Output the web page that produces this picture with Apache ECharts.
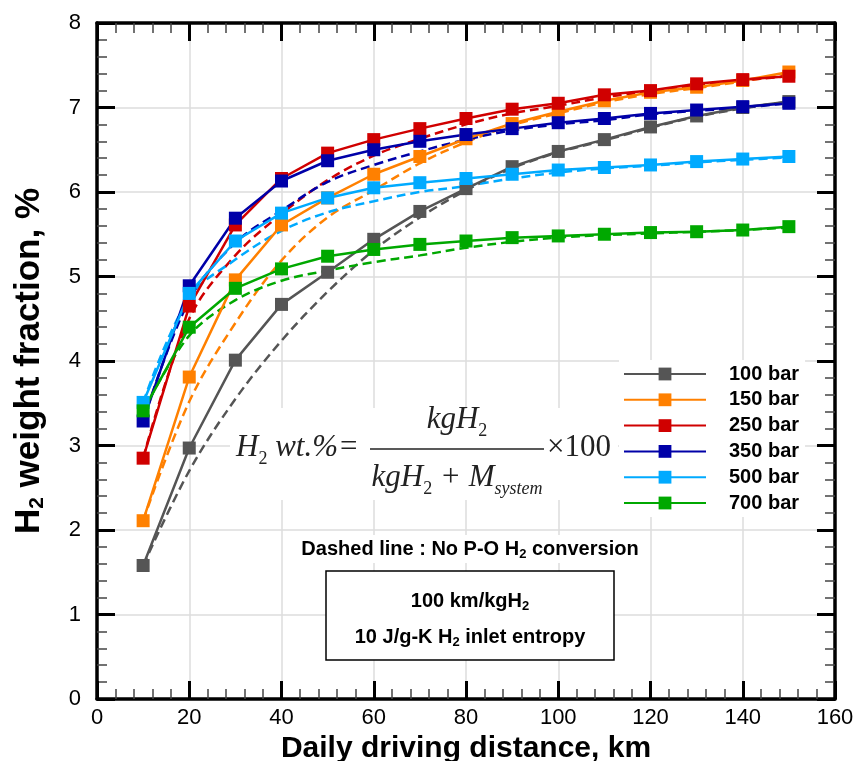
<!DOCTYPE html>
<html>
<head>
<meta charset="utf-8">
<script src="https://cdn.jsdelivr.net/npm/echarts@6/dist/echarts.min.js"></script>
<style>
  html, body { margin: 0; padding: 0; background: #fff; }
  #chart { width: 860px; height: 761px; }
</style>
</head>
<body>
<div id="chart"></div>
<script>
// daily driving distance, km
var distance = [10, 20, 30, 40, 50, 60, 70, 80, 90, 100, 110, 120, 130, 140, 150];

// solid lines (with P-O conversion)
var bar100 = [1.58, 2.97, 4.01, 4.67, 5.05, 5.44, 5.77, 6.04, 6.30, 6.48, 6.62, 6.77, 6.90, 7.00, 7.07];
var bar150 = [2.11, 3.81, 4.96, 5.61, 5.93, 6.21, 6.42, 6.63, 6.81, 6.95, 7.08, 7.18, 7.24, 7.32, 7.42];
var bar250 = [2.85, 4.65, 5.61, 6.16, 6.46, 6.62, 6.75, 6.87, 6.98, 7.05, 7.15, 7.20, 7.28, 7.33, 7.37];
var bar350 = [3.29, 4.89, 5.69, 6.13, 6.37, 6.50, 6.60, 6.68, 6.75, 6.82, 6.87, 6.93, 6.97, 7.01, 7.05];
var bar500 = [3.51, 4.80, 5.42, 5.75, 5.93, 6.05, 6.11, 6.16, 6.21, 6.26, 6.29, 6.32, 6.36, 6.39, 6.42];
var bar700 = [3.41, 4.40, 4.86, 5.09, 5.24, 5.32, 5.38, 5.42, 5.46, 5.48, 5.50, 5.52, 5.53, 5.55, 5.59];

// dashed lines (no P-O H2 conversion)
var noPO100 = [1.58, 2.70, 3.55, 4.24, 4.82, 5.31, 5.70, 6.02, 6.28, 6.47, 6.61, 6.76, 6.89, 6.99, 7.07];
var noPO150 = [2.11, 3.52, 4.45, 5.19, 5.70, 6.02, 6.34, 6.59, 6.79, 6.93, 7.06, 7.16, 7.23, 7.31, 7.40];
var noPO250 = [2.85, 4.50, 5.25, 5.74, 6.14, 6.43, 6.63, 6.80, 6.93, 7.02, 7.12, 7.19, 7.26, 7.32, 7.37];
var noPO350 = [3.29, 4.72, 5.40, 5.78, 6.12, 6.32, 6.48, 6.62, 6.73, 6.80, 6.85, 6.92, 6.96, 7.00, 7.05];
var noPO500 = [3.51, 4.75, 5.20, 5.54, 5.76, 5.89, 6.00, 6.07, 6.16, 6.23, 6.28, 6.31, 6.35, 6.38, 6.41];
var noPO700 = [3.41, 4.30, 4.72, 4.95, 5.07, 5.17, 5.25, 5.34, 5.41, 5.46, 5.49, 5.51, 5.53, 5.55, 5.58];

var names = ['100 bar', '150 bar', '250 bar', '350 bar', '500 bar', '700 bar'];
var colors = ['#555555', '#ff8000', '#d00000', '#0000a8', '#00aaff', '#00a800'];
var solidData = [bar100, bar150, bar250, bar350, bar500, bar700];
var dashedData = [noPO100, noPO150, noPO250, noPO350, noPO500, noPO700];

function pairs(ys) {
    var arr = [];
    for (let i = 0; i < ys.length; i++) {
        arr.push([distance[i], ys[i]]);
    }
    return arr;
}

var series = [];
for (let i = 0; i < names.length; i++) {
    series.push({
        name: names[i] + ' dashed',
        type: 'line',
        data: pairs(dashedData[i]),
        smooth: 0.35,
        showSymbol: false,
        symbol: 'none',
        lineStyle: { color: colors[i], width: 2.5, type: [9, 5] },
        itemStyle: { color: colors[i] },
        z: 2
    });
}
for (let i = 0; i < names.length; i++) {
    series.push({
        name: names[i],
        type: 'line',
        data: pairs(solidData[i]),
        symbol: 'rect',
        symbolSize: 13,
        lineStyle: { color: colors[i], width: 2.5 },
        itemStyle: { color: colors[i] },
        z: 3
    });
}

var tickFont = { fontFamily: 'Liberation Sans', fontSize: 22, color: '#000' };
var serif = 'Liberation Serif';

function axisBase() {
    return {
        axisLine: { show: true, onZero: false, lineStyle: { color: '#000', width: 3.5 } },
        axisTick: { show: true, inside: true, length: 18, lineStyle: { color: '#000', width: 3 } },
        minorTick: { show: true, splitNumber: 5, length: 10, lineStyle: { color: '#444', width: 1.5 } }
    };
}

var chart = echarts.init(document.getElementById('chart'), null, { renderer: 'canvas' });

var option = {
    animation: false,
    backgroundColor: '#fff',
    grid: { left: 97, right: 25, top: 23, bottom: 62, containLabel: false, outerBoundsMode: 'none' },
    xAxis: [
        Object.assign(axisBase(), {
            type: 'value', min: 0, max: 160, interval: 20, position: 'bottom',
            axisLabel: Object.assign({ margin: 8 }, tickFont),
            splitLine: { show: true, lineStyle: { color: '#dcdcdc', width: 1.5 } },
            name: 'Daily driving distance, km',
            nameLocation: 'middle',
            nameGap: 31,
            nameTextStyle: { fontFamily: 'Liberation Sans', fontWeight: 'bold', fontSize: 30, color: '#000' }
        }),
        Object.assign(axisBase(), {
            type: 'value', min: 0, max: 160, interval: 20, position: 'top',
            axisLabel: { show: false }, splitLine: { show: false }
        })
    ],
    yAxis: [
        Object.assign(axisBase(), {
            type: 'value', min: 0, max: 8, interval: 1, position: 'left',
            axisLabel: Object.assign({ margin: 16 }, tickFont),
            splitLine: { show: true, lineStyle: { color: '#dcdcdc', width: 1.5 } },
            name: '{b|H}{s|2}{b| weight fraction, %}',
            nameLocation: 'middle',
            nameGap: 49,
            nameTextStyle: {
                rich: {
                    b: { fontFamily: 'Liberation Sans', fontWeight: 'bold', fontSize: 35, lineHeight: 38, color: '#000' },
                    s: { fontFamily: 'Liberation Sans', fontWeight: 'bold', fontSize: 21, lineHeight: 21, verticalAlign: 'bottom', color: '#000' }
                }
            }
        }),
        Object.assign(axisBase(), {
            type: 'value', min: 0, max: 8, interval: 1, position: 'right',
            axisLabel: { show: false }, splitLine: { show: false }
        })
    ],
    legend: {
        data: names,
        orient: 'vertical',
        left: 619,
        top: 360,
        padding: [4, 6, 4, 4],
        backgroundColor: '#fff',
        itemWidth: 82,
        itemHeight: 16,
        itemGap: 5.8,
        textStyle: { fontFamily: 'Liberation Sans', fontWeight: 'bold', fontSize: 20, lineHeight: 16, color: '#000', padding: [0, 0, 0, 18] }
    },
    graphic: [
        // formula
        { type: 'rect', z: 1, shape: { x: 230, y: 408, width: 388, height: 92 }, style: { fill: '#fff' } },
        {
            type: 'text', z: 1, x: 236, y: 448,
            style: {
                text: '{i|H}{s|2}{i| wt.%=}', align: 'left', verticalAlign: 'middle',
                rich: {
                    i: { fontFamily: serif, fontStyle: 'italic', fontSize: 31, lineHeight: 40, fill: '#222' },
                    s: { fontFamily: serif, fontSize: 18, lineHeight: 18, verticalAlign: 'bottom', fill: '#222' }
                }
            }
        },
        {
            type: 'text', z: 1, x: 457, y: 420,
            style: {
                text: '{i|kgH}{s|2}', align: 'center', verticalAlign: 'middle',
                rich: {
                    i: { fontFamily: serif, fontStyle: 'italic', fontSize: 31, lineHeight: 40, fill: '#222' },
                    s: { fontFamily: serif, fontSize: 18, lineHeight: 18, verticalAlign: 'bottom', fill: '#222' }
                }
            }
        },
        { type: 'line', z: 1, shape: { x1: 370, y1: 449, x2: 544, y2: 449 }, style: { stroke: '#222', lineWidth: 1.5 } },
        {
            type: 'text', z: 1, x: 457, y: 478,
            style: {
                text: '{i|kgH}{s|2}{i| + M}{t|system}', align: 'center', verticalAlign: 'middle',
                rich: {
                    i: { fontFamily: serif, fontStyle: 'italic', fontSize: 31, lineHeight: 40, fill: '#222' },
                    s: { fontFamily: serif, fontSize: 18, lineHeight: 18, verticalAlign: 'bottom', fill: '#222' },
                    t: { fontFamily: serif, fontStyle: 'italic', fontSize: 18, lineHeight: 18, verticalAlign: 'bottom', fill: '#222' }
                }
            }
        },
        {
            type: 'text', z: 1, x: 547, y: 448,
            style: { text: '×100', align: 'left', verticalAlign: 'middle', font: '31px "Liberation Serif"', fill: '#222' }
        },
        // note
        {
            type: 'text', z: 1, x: 470, y: 549,
            style: {
                text: '{b|Dashed line : No P-O H}{s|2}{b| conversion}', align: 'center', verticalAlign: 'middle',
                backgroundColor: '#fff', padding: [2, 3, 2, 3],
                rich: {
                    b: { fontFamily: 'Liberation Sans', fontWeight: 'bold', fontSize: 20, lineHeight: 24, fill: '#000' },
                    s: { fontFamily: 'Liberation Sans', fontWeight: 'bold', fontSize: 13, lineHeight: 13, verticalAlign: 'bottom', fill: '#000' }
                }
            }
        },
        // condition box
        { type: 'rect', z: 1, shape: { x: 326, y: 571, width: 288, height: 89 }, style: { fill: '#fff', stroke: '#000', lineWidth: 1.5 } },
        {
            type: 'text', z: 1, x: 470, y: 601,
            style: {
                text: '{b|100 km/kgH}{s|2}', align: 'center', verticalAlign: 'middle',
                rich: {
                    b: { fontFamily: 'Liberation Sans', fontWeight: 'bold', fontSize: 20, lineHeight: 24, fill: '#000' },
                    s: { fontFamily: 'Liberation Sans', fontWeight: 'bold', fontSize: 13, lineHeight: 13, verticalAlign: 'bottom', fill: '#000' }
                }
            }
        },
        {
            type: 'text', z: 1, x: 470, y: 637,
            style: {
                text: '{b|10 J/g-K H}{s|2}{b| inlet entropy}', align: 'center', verticalAlign: 'middle',
                rich: {
                    b: { fontFamily: 'Liberation Sans', fontWeight: 'bold', fontSize: 20, lineHeight: 24, fill: '#000' },
                    s: { fontFamily: 'Liberation Sans', fontWeight: 'bold', fontSize: 13, lineHeight: 13, verticalAlign: 'bottom', fill: '#000' }
                }
            }
        }
    ],
    series: series
};

chart.setOption(option);
</script>
</body>
</html>
